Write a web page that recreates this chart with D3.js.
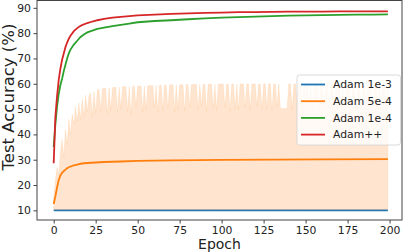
<!DOCTYPE html>
<html>
<head>
<meta charset="utf-8">
<script src="https://cdn.jsdelivr.net/npm/d3@7"></script>
<style>
  body { margin: 0; background: #fff; }
  text { font-family: "DejaVu Sans", sans-serif; fill: #222; }
</style>
</head>
<body>
<div id="chart"></div>
<script>
// data
var xTicks = [0, 25, 50, 75, 100, 125, 150, 175, 200];
var yTicks = [10, 20, 30, 40, 50, 60, 70, 80, 90];

var seriesNames = ["Adam 1e-3", "Adam 5e-4", "Adam 1e-4", "Adam++"];
var seriesColors = ["#1f77b4", "#ff7f0e", "#2ca02c", "#d62728"];

// Adam 1e-3 stays at chance level
var blueEpochs = [0, 199];
var blueAcc = [10, 10];

// Adam 5e-4 mean
var orangeEpochs = [0, 1, 2, 3, 4, 5, 6, 7, 8, 9, 10, 12, 14, 16, 18, 20, 25, 30, 40, 50, 70, 100, 130, 160, 199];
var orangeAcc = [12.5, 15.5, 19, 22, 23.8, 24.8, 25.5, 26.1, 26.6, 27, 27.3, 27.8, 28.1, 28.4, 28.6, 28.7, 28.9, 29.1, 29.3, 29.5, 29.7, 29.9, 30, 30.1, 30.2];

// Adam 5e-4 spread (upper edge per epoch, lower edge flat)
var bandFloor = [10.2];
var bandTop = [
  14.7, 22, 27, 24, 33, 38, 31, 42, 36, 46,
  40, 48, 44, 51, 45, 52.5, 46, 54, 47, 55.5,
  49, 55, 56.5, 47, 57, 48.5, 57.5, 57.8, 49, 58,
  58.2, 58.1, 48, 58.4, 49.5, 58.5, 58.5, 58.6, 48.5, 58.7,
  50, 58.8, 58.9, 58.8, 49, 58.9, 47.5, 59, 59, 51,
  59.1, 59, 59.2, 48.8, 59.2, 49.5, 59.3, 59.3, 59.2, 59.3,
  50.5, 59.4, 48.7, 59.4, 59.5, 49.3, 59.5, 59.4, 50, 59.5,
  59.6, 59.6, 48.9, 59.5, 49.8, 59.6, 59.7, 59.6, 49.2, 59.7,
  59.7, 50.6, 59.6, 59.7, 59.8, 59.7, 49.5, 59.8, 51, 59.8,
  59.7, 49, 59.8, 59.8, 59.9, 50.3, 59.8, 49.4, 59.9, 59.8,
  59.9, 59.9, 50.5, 59.9, 59.8, 49.1, 59.9, 59.9, 50, 59.9,
  49.6, 59.9, 60, 59.9, 50.4, 60, 59.9, 49.3, 60, 59.9,
  60, 51, 59.9, 60, 49.7, 60, 60, 50.2, 59.9, 60,
  49.5, 60, 59.9, 50.8, 60, 50.2, 50.1, 50.2, 50.2, 50.3,
  60, 60, 49.6, 60, 59.9, 50.5, 60, 60, 49.4, 60,
  59.9, 60, 50.3, 60, 49.8, 60, 60, 59.9, 50.6, 60,
  60, 49.5, 60, 60, 50.4, 59.9, 60, 49.9, 60, 60,
  60, 50.7, 60, 49.6, 60, 60, 60, 50.2, 60, 59.9,
  49.7, 60, 60, 50.5, 60, 60, 49.8, 60, 59.9, 60,
  50.6, 60, 60, 49.9, 60, 50.3, 60, 60, 49.7, 60
];

// Adam 1e-4
var greenEpochs = [0, 1, 2, 3, 4, 5, 6, 7, 8, 9, 10, 12, 14, 16, 18, 20, 23, 26, 30, 35, 40, 45, 50, 60, 70, 80, 90, 100, 110, 120, 130, 140, 150, 160, 170, 180, 190, 199];
var greenAcc = [35, 44, 51, 56, 59.5, 62, 65, 67.5, 70, 72, 73.5, 75.5, 77, 78.5, 79.5, 80.3, 81, 81.7, 82.2, 82.8, 83.3, 83.8, 84.3, 84.8, 85.1, 85.5, 85.8, 86.1, 86.3, 86.5, 86.7, 86.9, 87, 87.1, 87.2, 87.3, 87.3, 87.4];

// Adam++
var redEpochs = [0, 1, 2, 3, 4, 5, 6, 7, 8, 9, 10, 12, 14, 16, 18, 20, 23, 26, 30, 35, 40, 45, 50, 60, 70, 80, 90, 100, 110, 120, 130, 140, 150, 160, 170, 180, 190, 199];
var redAcc = [28.6, 47, 55, 61.5, 66, 69.5, 72, 74.5, 76.3, 77.8, 79, 80.8, 82, 82.9, 83.5, 84, 84.6, 85.1, 85.6, 86.1, 86.4, 86.7, 87, 87.3, 87.6, 87.8, 88, 88.1, 88.3, 88.3, 88.4, 88.5, 88.5, 88.5, 88.6, 88.6, 88.6, 88.6];

// layout
var W = 407, H = 252;
var plot = {left: 37, right: 402, top: 0.5, bottom: 220};

var svg = d3.select("#chart").append("svg")
    .attr("width", W)
    .attr("height", H);

var x = d3.scaleLinear().domain([-9.94, 207.4]).range([plot.left, plot.right]);
var y = d3.scaleLinear().domain([6.18, 92.9]).range([plot.bottom, plot.top]);

function pairs(ep, vals) {
  return ep.map(function(e, i) { return [e, vals[i]]; });
}

var line = d3.line()
    .x(function(d) { return x(d[0]); })
    .y(function(d) { return y(d[1]); });

var g = svg.append("g");

// blue
g.append("path")
    .datum(pairs(blueEpochs, blueAcc))
    .attr("d", line)
    .attr("fill", "none")
    .attr("stroke", seriesColors[0])
    .attr("stroke-width", 1.8);

// orange band
var band = d3.area()
    .x(function(d, i) { return x(i); })
    .y0(function() { return y(bandFloor[0]); })
    .y1(function(d) { return y(d); });
g.append("path")
    .datum(bandTop)
    .attr("d", band)
    .attr("fill", seriesColors[1])
    .attr("fill-opacity", 0.2)
    .attr("stroke", seriesColors[1])
    .attr("stroke-opacity", 0.12)
    .attr("stroke-width", 0.8);

g.append("path")
    .datum(pairs(orangeEpochs, orangeAcc))
    .attr("d", line)
    .attr("fill", "none")
    .attr("stroke", seriesColors[1])
    .attr("stroke-width", 1.8);

g.append("path")
    .datum(pairs(greenEpochs, greenAcc))
    .attr("d", line)
    .attr("fill", "none")
    .attr("stroke", seriesColors[2])
    .attr("stroke-width", 1.8);

g.append("path")
    .datum(pairs(redEpochs, redAcc))
    .attr("d", line)
    .attr("fill", "none")
    .attr("stroke", seriesColors[3])
    .attr("stroke-width", 1.8);

// frame
svg.append("rect")
    .attr("x", plot.left)
    .attr("y", plot.top)
    .attr("width", plot.right - plot.left)
    .attr("height", plot.bottom - plot.top)
    .attr("fill", "none")
    .attr("stroke", "#444")
    .attr("stroke-width", 1);

// axes
var xAxis = svg.append("g")
    .attr("transform", "translate(0," + plot.bottom + ")")
    .call(d3.axisBottom(x).tickValues(xTicks).tickSize(3.5).tickPadding(2.5));
var yAxis = svg.append("g")
    .attr("transform", "translate(" + plot.left + ",0)")
    .call(d3.axisLeft(y).tickValues(yTicks).tickSize(3.5).tickPadding(2.5));
[xAxis, yAxis].forEach(function(a) {
  a.select(".domain").remove();
  a.selectAll(".tick line").attr("stroke", "#444");
  a.selectAll(".tick text")
      .style("font-family", "DejaVu Sans")
      .style("font-size", "10.8px")
      .attr("fill", "#222");
});

svg.append("text")
    .attr("x", (plot.left + plot.right) / 2)
    .attr("y", 249)
    .attr("text-anchor", "middle")
    .style("font-size", "14px")
    .text("Epoch");

svg.append("text")
    .attr("transform", "translate(14,97) rotate(-90)")
    .attr("text-anchor", "middle")
    .style("font-size", "16.5px")
    .text("Test Accuracy (%)");

// legend
var leg = svg.append("g").attr("transform", "translate(297,75)");
leg.append("rect")
    .attr("width", 103.5)
    .attr("height", 70)
    .attr("rx", 2.5)
    .attr("fill", "#fff")
    .attr("fill-opacity", 0.8)
    .attr("stroke", "#d0d0d0")
    .attr("stroke-width", 0.8);
seriesNames.forEach(function(name, i) {
  var ry = 9.5 + i * 16.7;
  leg.append("line")
      .attr("x1", 4).attr("x2", 28)
      .attr("y1", ry).attr("y2", ry)
      .attr("stroke", seriesColors[i])
      .attr("stroke-width", 1.8);
  leg.append("text")
      .attr("x", 36)
      .attr("y", ry)
      .attr("dy", "0.36em")
      .style("font-size", "10.8px")
      .text(name);
});
</script>
</body>
</html>
